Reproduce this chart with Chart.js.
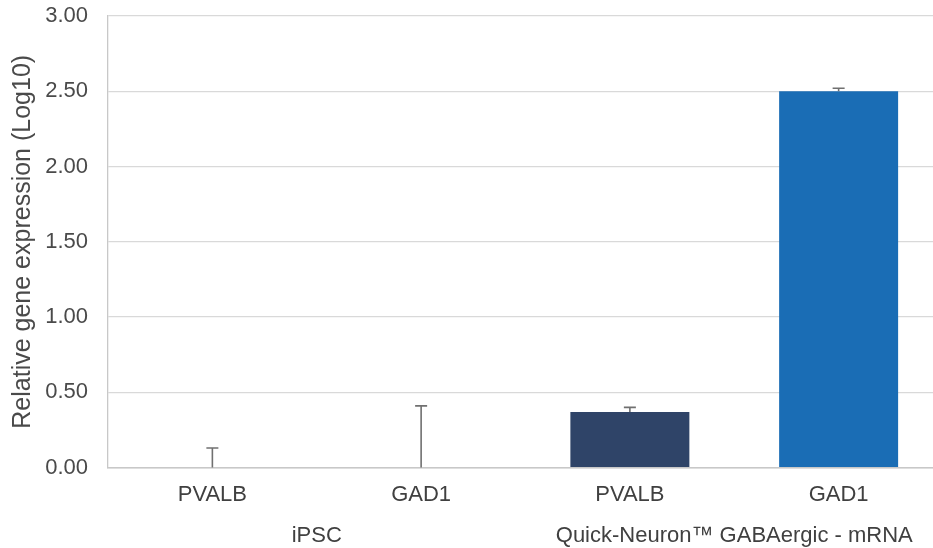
<!DOCTYPE html>
<html>
<head>
<meta charset="utf-8">
<script src="https://cdn.jsdelivr.net/npm/chart.js@4/dist/chart.umd.min.js"></script>
<style>
html,body{margin:0;padding:0;background:#fff;overflow:hidden;}
#wrap{width:943px;height:548px;position:relative;}
</style>
</head>
<body>
<div id="wrap"><canvas id="c"></canvas></div>
<script>
const categories = ["PVALB", "GAD1", "PVALB", "GAD1"];
const groups = ["iPSC", "iPSC", "Quick-Neuron™ GABAergic - mRNA", "Quick-Neuron™ GABAergic - mRNA"];
const values = [0, 0, 0.37, 2.50];
const errorsUp = [0.13, 0.41, 0.03, 0.02];
const barColors = ["#2f4468", "#1a6db5", "#2f4468", "#1a6db5"];
const yTicks = [0, 0.5, 1, 1.5, 2, 2.5, 3];

const FONT = "'Liberation Sans', Arial, sans-serif";

const errorBarPlugin = {
  id: 'errorBars',
  afterDatasetsDraw(chart) {
    const ctx = chart.ctx;
    const x = chart.scales.x, y = chart.scales.y;
    ctx.save();
    ctx.strokeStyle = '#707070';
    ctx.lineWidth = 1.6;
    values.forEach((v, i) => {
      const px = x.getPixelForValue(i);
      const y0 = y.getPixelForValue(v);
      const y1 = y.getPixelForValue(v + errorsUp[i]);
      ctx.beginPath();
      ctx.moveTo(px, y0);
      ctx.lineTo(px, y1);
      ctx.moveTo(px - 6, y1);
      ctx.lineTo(px + 6, y1);
      ctx.stroke();
    });
    ctx.restore();
  }
};

const groupLabelPlugin = {
  id: 'groupLabels',
  afterDraw(chart) {
    const ctx = chart.ctx;
    const x = chart.scales.x;
    ctx.save();
    ctx.fillStyle = '#404040';
    ctx.font = '22px ' + FONT;
    ctx.textAlign = 'center';
    ctx.textBaseline = 'middle';
    const seen = {};
    groups.forEach((g, i) => {
      if (!seen[g]) seen[g] = [];
      seen[g].push(x.getPixelForValue(i));
    });
    Object.keys(seen).forEach(g => {
      const arr = seen[g];
      const cx = (arr[0] + arr[arr.length - 1]) / 2;
      ctx.fillText(g, cx, chart.chartArea.bottom + 68);
    });
    ctx.restore();
  }
};

new Chart(document.getElementById('c'), {
  type: 'bar',
  data: {
    labels: categories,
    datasets: [{
      data: values,
      backgroundColor: barColors,
      borderWidth: 0,
      barPercentage: 0.57,
      categoryPercentage: 1.0
    }]
  },
  options: {
    responsive: true,
    maintainAspectRatio: false,
    animation: false,
    layout: { padding: { top: 0, bottom: 26, left: 0, right: 0 } },
    plugins: {
      legend: { display: false },
      tooltip: { enabled: false }
    },
    scales: {
      x: {
        grid: { display: false, drawTicks: false },
        border: { display: true, color: '#c8c8c8', width: 1.5 },
        ticks: { color: '#404040', font: { size: 22, family: FONT }, padding: 14 }
      },
      y: {
        min: 0,
        max: 3,
        afterBuildTicks(axis) { axis.ticks = yTicks.map(v => ({ value: v })); },
        afterFit(axis) { axis.width = 108; axis.paddingTop = 16; axis.paddingBottom = 14; },
        grid: { color: '#d9d9d9', lineWidth: 1.3, drawTicks: false },
        border: { display: true, color: '#c8c8c8', width: 1.3 },
        ticks: {
          color: '#4a4a4a',
          font: { size: 22, family: FONT },
          padding: 20,
          callback: v => Number(v).toFixed(2)
        },
        title: {
          display: true,
          text: 'Relative gene expression (Log10)',
          color: '#4a4a4a',
          font: { size: 25, family: FONT },
          padding: { top: 8, bottom: 4 }
        }
      }
    }
  },
  plugins: [errorBarPlugin, groupLabelPlugin]
});
</script>
</body>
</html>
